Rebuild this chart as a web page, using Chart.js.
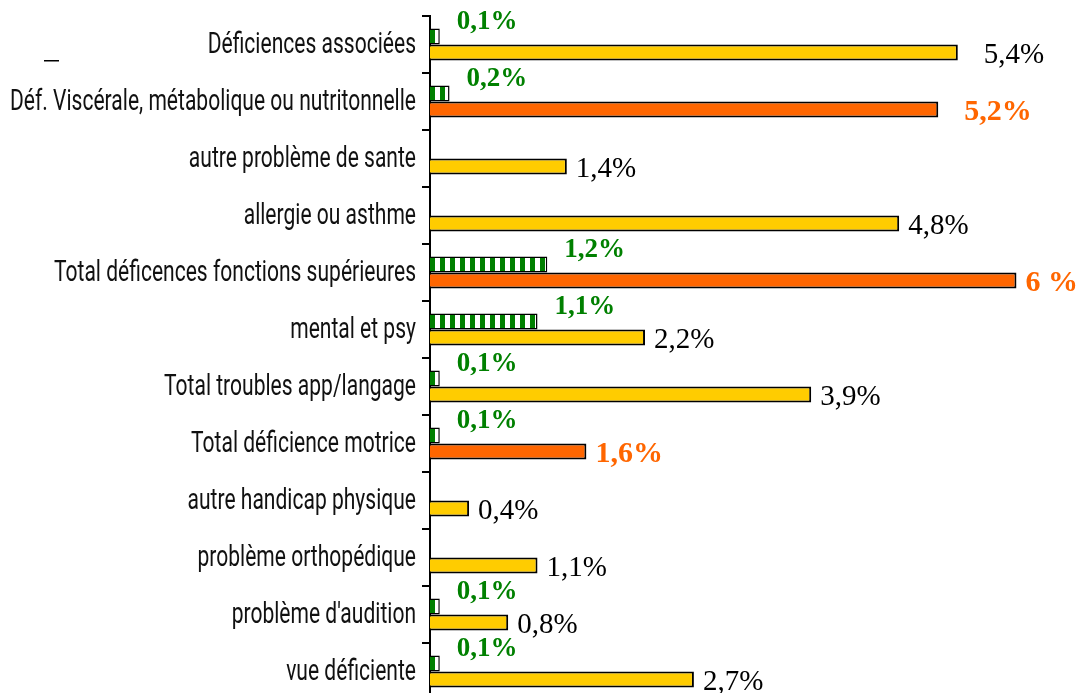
<!DOCTYPE html>
<html><head><meta charset="utf-8">
<script src="https://cdn.jsdelivr.net/npm/chart.js@4/dist/chart.umd.min.js"></script>
<style>html,body{margin:0;padding:0;background:#fff;overflow:hidden;width:1080px;height:693px}
#wrap{position:relative;width:1080px;height:700px}</style>
</head><body><div id="wrap"><canvas id="c" width="1080" height="700"></canvas></div>
<script>
const categories = [
  'Déficiences associées',
  'Déf. Viscérale, métabolique ou nutritonnelle',
  'autre problème de sante',
  'allergie ou asthme',
  'Total déficences fonctions supérieures',
  'mental et psy',
  'Total troubles app/langage',
  'Total déficience motrice',
  'autre handicap physique',
  'problème orthopédique',
  "problème d'audition",
  'vue déficiente'
];
const greenValues = [0.1, 0.2, null, null, 1.2, 1.1, 0.1, 0.1, null, null, 0.1, 0.1];
const mainValues  = [5.4, 5.2, 1.4, 4.8, 6, 2.2, 3.9, 1.6, 0.4, 1.1, 0.8, 2.7];
const isTotal     = [false, true, false, false, true, false, false, true, false, false, false, false];
const greenLabels = ['0,1%', '0,2%', '', '', '1,2%', '1,1%', '0,1%', '0,1%', '', '', '0,1%', '0,1%'];
const mainLabels  = ['5,4%', '5,2%', '1,4%', '4,8%', '6 %', '2,2%', '3,9%', '1,6%', '0,4%', '1,1%', '0,8%', '2,7%'];

const GREEN = '#008000', YELLOW = '#FFCC00', ORANGE = '#FF6600';
const pc = document.createElement('canvas'); pc.width = 10; pc.height = 10;
const pctx = pc.getContext('2d');
pctx.fillStyle = '#fff'; pctx.fillRect(0, 0, 10, 10);
pctx.fillStyle = GREEN; pctx.fillRect(0, 0, 5, 10);
const ctx0 = document.getElementById('c').getContext('2d');
const stripe = ctx0.createPattern(pc, 'repeat');

const LABEL_FONT = '30px Roboto, "DejaVu Sans Condensed", sans-serif';

const labelPlugin = {
  id: 'valueLabels',
  afterDatasetsDraw(chart) {
    const ctx = chart.ctx;
    const m0 = chart.getDatasetMeta(0), m1 = chart.getDatasetMeta(1);
    ctx.save();
    ctx.textAlign = 'left'; ctx.textBaseline = 'middle';
    greenValues.forEach((v, i) => {
      if (v == null) return;
      const el = m0.data[i];
      ctx.font = 'bold 27px "Liberation Serif", "Times New Roman", serif';
      ctx.fillStyle = GREEN;
      ctx.fillText(greenLabels[i], el.x + 17, el.y - 14);
    });
    mainValues.forEach((v, i) => {
      const el = m1.data[i];
      ctx.font = isTotal[i] ? 'bold 30px "Liberation Serif", serif' : '29px "Liberation Serif", serif';
      ctx.fillStyle = isTotal[i] ? ORANGE : '#000';
      const gap = i < 2 ? 26 : 9;
      ctx.fillText(mainLabels[i], el.x + gap, el.y + 3);
    });
    // category labels (condensed), positioned by the y scale
    const ys = chart.scales.y;
    ctx.font = LABEL_FONT;
    ctx.fillStyle = '#111';
    const maxW = Math.max(...categories.map(c => ctx.measureText(c).width));
    const sx = 406 / maxW;
    ctx.textAlign = 'right';
    categories.forEach((c, i) => {
      const y = ys.getPixelForValue(i);
      ctx.save();
      ctx.translate(416, y + 1);
      ctx.scale(sx, 1);
      ctx.fillText(c, 0, 0);
      ctx.restore();
    });
    ctx.fillStyle = '#000';
    ctx.fillRect(44, 60, 15, 1.5);
    ctx.restore();
  }
};

new Chart(document.getElementById('c'), {
  type: 'bar',
  data: {
    labels: categories,
    datasets: [
      { data: greenValues, backgroundColor: stripe, borderColor: '#000', borderWidth: 1.5,
        barPercentage: 1, categoryPercentage: 0.56 },
      { data: mainValues, backgroundColor: mainValues.map((v, i) => isTotal[i] ? ORANGE : YELLOW),
        borderColor: '#000', borderWidth: 2, barPercentage: 1, categoryPercentage: 0.56 }
    ]
  },
  options: {
    responsive: false, animation: false, maintainAspectRatio: false,
    indexAxis: 'y',
    layout: { padding: { top: 16, bottom: 0, left: 0, right: 0 } },
    plugins: { legend: { display: false }, tooltip: { enabled: false } },
    scales: {
      x: { display: false, min: 0, max: 6.65 },
      y: {
        afterFit(s) { s.width = 430; },
        ticks: { display: false },
        grid: { offset: true, drawOnChartArea: false, drawTicks: true, tickLength: 8, color: '#000', lineWidth: 2 },
        border: { display: true, color: '#000', width: 2 }
      }
    }
  },
  plugins: [labelPlugin]
});
</script></body></html>
